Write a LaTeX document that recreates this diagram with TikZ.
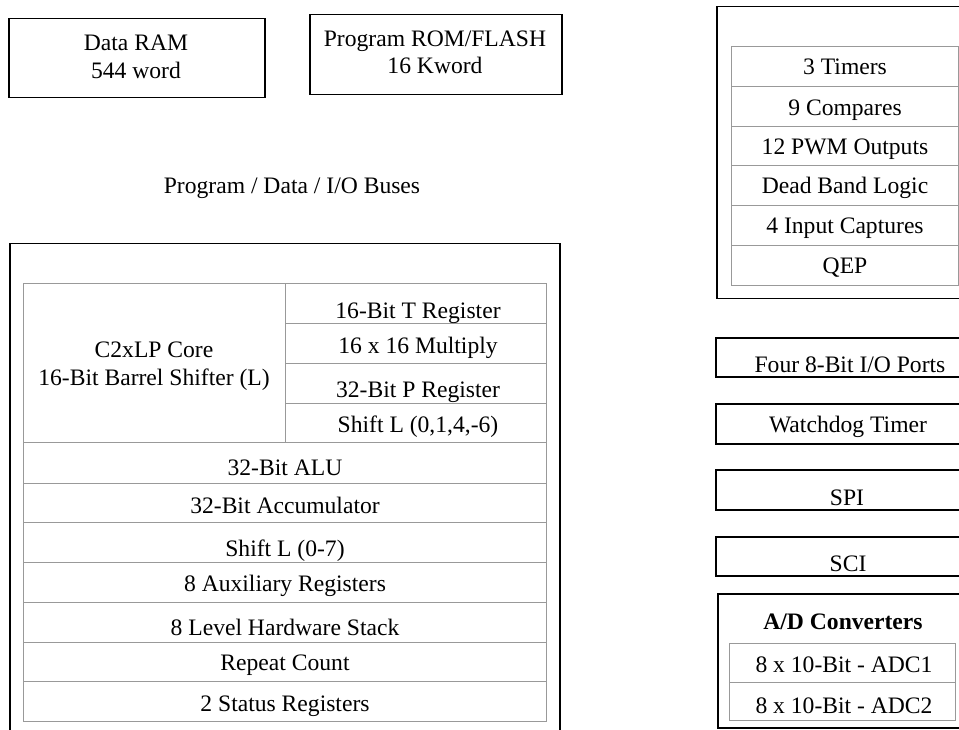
\documentclass[tikz,border=0pt]{standalone}
\usepackage{fontspec}
\setmainfont{Liberation Serif}
\begin{document}
\begin{tikzpicture}[x=1pt,y=-1pt,
  blk/.style={draw=black, line width=1.5pt, rectangle, inner sep=0pt, anchor=north west},
  cellbox/.style={draw=black!40, line width=1.3pt, rectangle, inner sep=0pt, anchor=north west},
  txt/.style={font=\fontsize{23.6}{28}\selectfont, inner sep=0pt, anchor=base, text=black},
  btxt/.style={font=\fontsize{23.6}{28}\selectfont\bfseries, inner sep=0pt, anchor=base, text=black}]
\useasboundingbox (0,0) rectangle (959,730);
\fill[white] (0,0) rectangle (959,730);

% memories
\node[blk, minimum width=256pt, minimum height=79pt] (ram) at (8,18) {};
\node[txt] (ramA) at (136,51) {Data RAM};
\node[txt] (ramB) at (136,79) {544 word};
\node[blk, minimum width=252pt, minimum height=80pt] (rom) at (309,14) {};
\node[txt] (romA) at (435,47) {Program ROM/FLASH};
\node[txt] (romB) at (435,74) {16 Kword};

\node[txt] (bus) at (292,194) {Program / Data / I/O Buses};

% core
\node[blk, minimum width=550pt, minimum height=510pt] (core) at (9,243) {};
\node[cellbox, minimum width=262pt, minimum height=159pt] (c2x) at (23,283) {};
\node[txt] (c2xA) at (154,357) {C2xLP Core};
\node[txt] (c2xB) at (154,385) {16-Bit Barrel Shifter (L)};

\node[cellbox, minimum width=261pt, minimum height=40pt] (treg) at (285,283) {};
\node[cellbox, minimum width=261pt, minimum height=40pt] (mul) at (285,323) {};
\node[cellbox, minimum width=261pt, minimum height=40pt] (preg) at (285,363) {};
\node[cellbox, minimum width=261pt, minimum height=39pt] (shA) at (285,403) {};
\node[txt] (tregT) at (418,318) {16-Bit T Register};
\node[txt] (mulT) at (418,353) {16 x 16 Multiply};
\node[txt] (pregT) at (418,397) {32-Bit P Register};
\node[txt] (shAT) at (418,432) {Shift L (0,1,4,-6)};

\node[cellbox, minimum width=523pt, minimum height=41pt] (alu) at (23,442) {};
\node[cellbox, minimum width=523pt, minimum height=39pt] (acc) at (23,483) {};
\node[cellbox, minimum width=523pt, minimum height=40pt] (shB) at (23,522) {};
\node[cellbox, minimum width=523pt, minimum height=40pt] (aux) at (23,562) {};
\node[cellbox, minimum width=523pt, minimum height=40pt] (stk) at (23,602) {};
\node[cellbox, minimum width=523pt, minimum height=39pt] (rpt) at (23,642) {};
\node[cellbox, minimum width=523pt, minimum height=40pt] (sts) at (23,681) {};
\node[txt] (aluT) at (285,475) {32-Bit ALU};
\node[txt] (accT) at (285,513) {32-Bit Accumulator};
\node[txt] (shBT) at (285,556) {Shift L (0-7)};
\node[txt] (auxT) at (285,591) {8 Auxiliary Registers};
\node[txt] (stkT) at (285,635) {8 Level Hardware Stack};
\node[txt] (rptT) at (285,670) {Repeat Count};
\node[txt] (stsT) at (285,711) {2 Status Registers};

% event manager
\node[blk, minimum width=259pt, minimum height=292pt] (ev) at (716,6) {};
\node[cellbox, minimum width=227pt, minimum height=40pt] (tim) at (731,46) {};
\node[cellbox, minimum width=227pt, minimum height=40pt] (cmp) at (731,86) {};
\node[cellbox, minimum width=227pt, minimum height=39pt] (pwm) at (731,126) {};
\node[cellbox, minimum width=227pt, minimum height=40pt] (dbl) at (731,165) {};
\node[cellbox, minimum width=227pt, minimum height=40pt] (cap) at (731,205) {};
\node[cellbox, minimum width=227pt, minimum height=40pt] (qep) at (731,245) {};
\node[txt] (timT) at (845,75) {3 Timers};
\node[txt] (cmpT) at (845,116) {9 Compares};
\node[txt] (pwmT) at (845,155) {12 PWM Outputs};
\node[txt] (dblT) at (845,194) {Dead Band Logic};
\node[txt] (capT) at (845,234) {4 Input Captures};
\node[txt] (qepT) at (845,274) {QEP};

% peripherals
\node[blk, minimum width=260pt, minimum height=39pt] (io) at (715,337) {};
\node[txt] (ioT) at (850,372) {Four 8-Bit I/O Ports};
\node[blk, minimum width=260pt, minimum height=40pt] (wd) at (715,403) {};
\node[txt] (wdT) at (848,432) {Watchdog Timer};
\node[blk, minimum width=260pt, minimum height=40pt] (spi) at (715,469) {};
\node[txt] (spiT) at (847,505) {SPI};
\node[blk, minimum width=260pt, minimum height=39pt] (sci) at (715,536) {};
\node[txt] (sciT) at (848,571) {SCI};

% ADC
\node[blk, minimum width=258pt, minimum height=134pt] (adc) at (717,593) {};
\node[btxt] (adcT) at (843,629) {A/D Converters};
\node[cellbox, minimum width=226pt, minimum height=39pt] (adc1) at (729,643) {};
\node[cellbox, minimum width=226pt, minimum height=38pt] (adc2) at (729,682) {};
\node[txt] (adc1T) at (844,672) {8 x 10-Bit - ADC1};
\node[txt] (adc2T) at (844,713) {8 x 10-Bit - ADC2};
\end{tikzpicture}
\end{document}
